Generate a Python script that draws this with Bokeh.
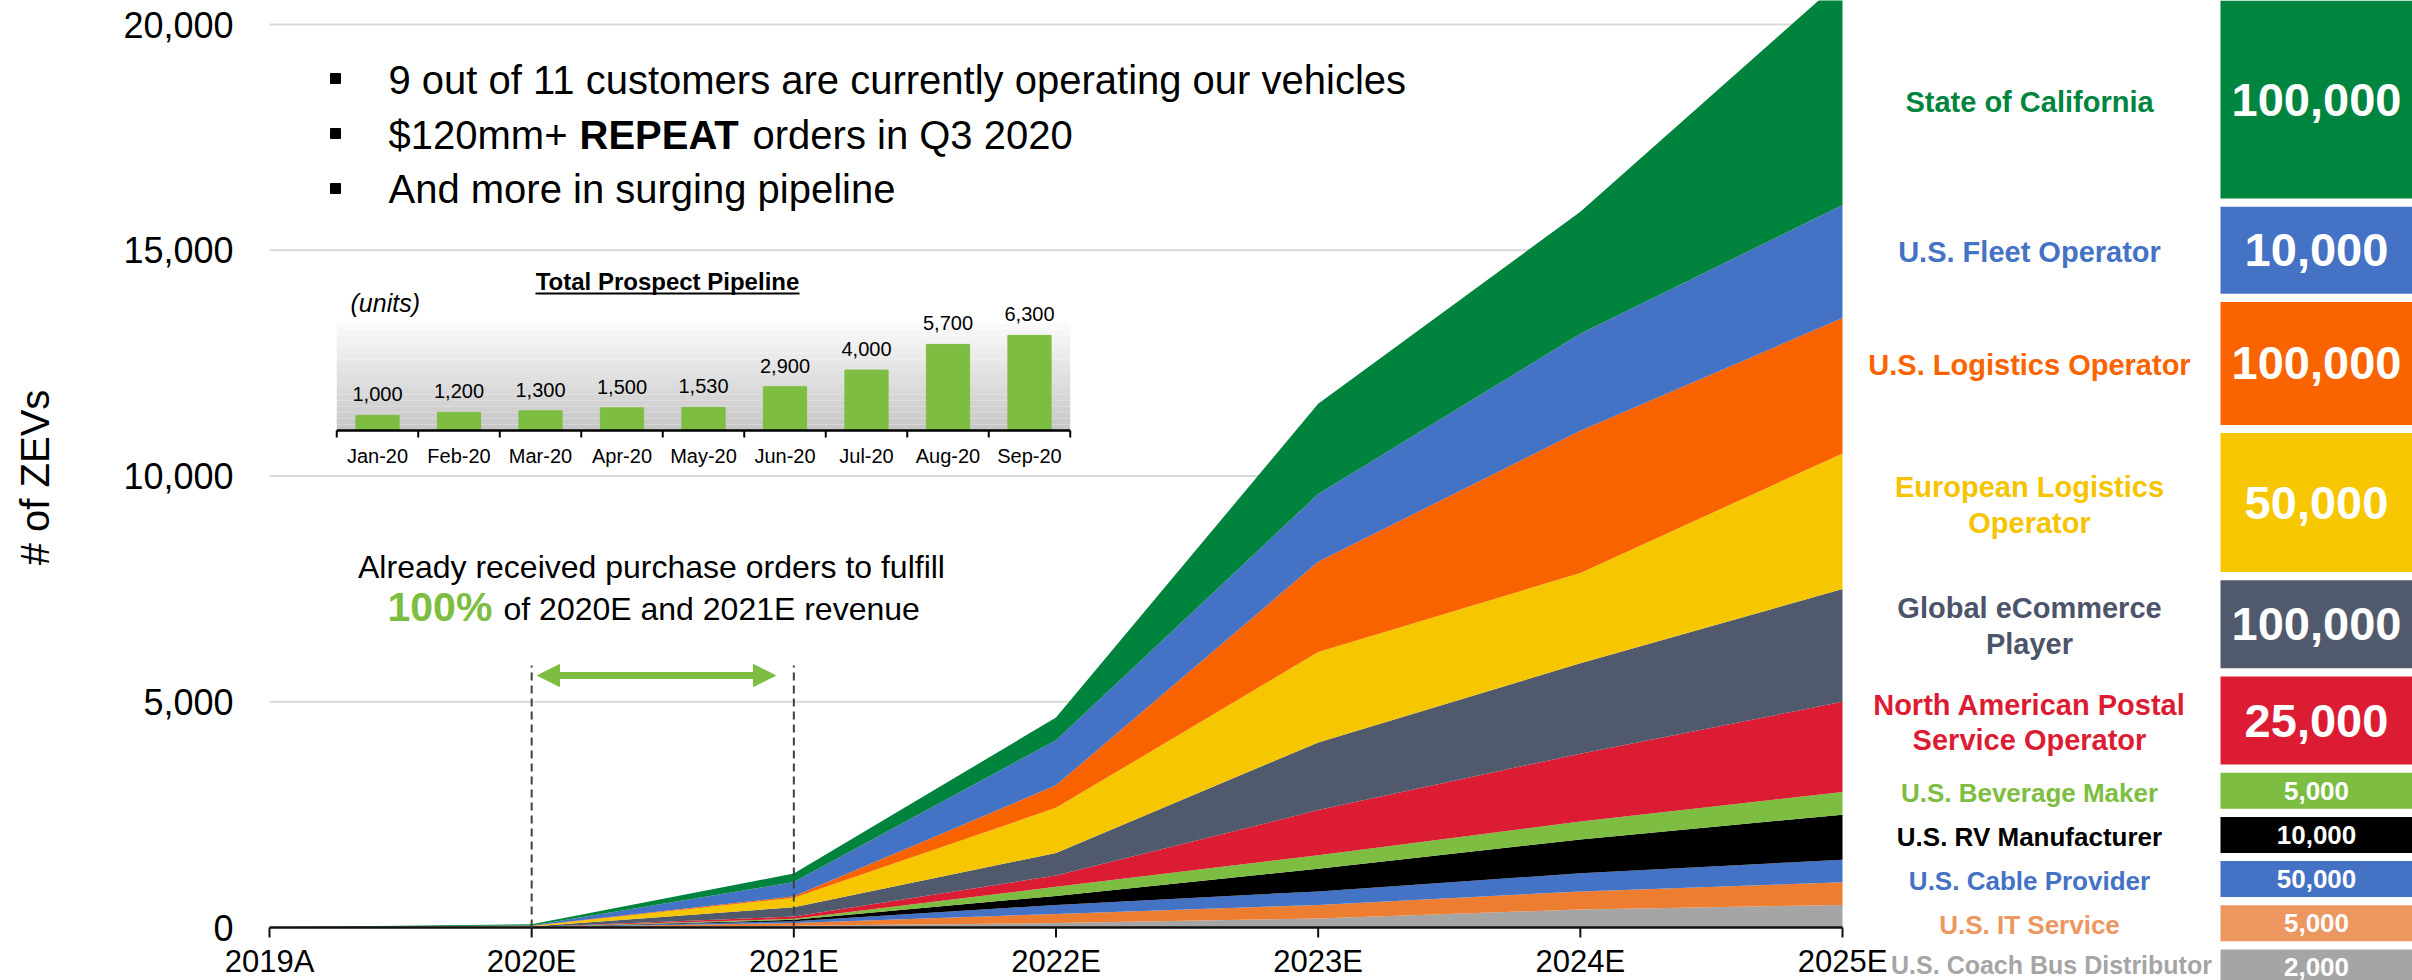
import math
from bokeh.plotting import figure
from bokeh.models import Range1d, ColumnDataSource, Arrow, NormalHead
from bokeh.embed import file_html
from bokeh.resources import INLINE
from bokeh.core.properties import value

# ---------------- data ----------------
years = ["2019A", "2020E", "2021E", "2022E", "2023E", "2024E", "2025E"]
y_ticks = [0, 5000, 10000, 15000, 20000]

# stacked layers, bottom to top (# of ZEVs)
coach_bus = [0, 1, 40, 100, 200, 400, 500]
it_service = [0, 2, 60, 200, 300, 400, 500]
cable_provider = [0, 2, 40, 200, 300, 400, 500]
rv_manufacturer = [0, 0, 30, 200, 500, 750, 1000]
beverage_maker = [0, 4, 25, 200, 300, 400, 500]
postal_operator = [0, 3, 50, 250, 1000, 1500, 2000]
ecommerce_player = [0, 8, 205, 500, 1500, 2000, 2500]
european_logistics = [1, 15, 210, 1000, 2000, 2000, 3000]
us_logistics = [0, 2, 30, 500, 2000, 3150, 3000]
us_fleet = [1, 10, 315, 1000, 1500, 2150, 2500]
california = [3, 25, 190, 500, 2000, 2700, 5000]

# legend panel, top to bottom
customer_names = ["State of California", "U.S. Fleet Operator", "U.S. Logistics Operator",
                  "European Logistics\nOperator", "Global eCommerce\nPlayer",
                  "North American Postal\nService Operator", "U.S. Beverage Maker",
                  "U.S. RV Manufacturer", "U.S. Cable Provider", "U.S. IT Service",
                  "U.S. Coach Bus Distributor"]
customer_orders = [100000, 10000, 100000, 50000, 100000, 25000, 5000, 10000, 50000, 5000, 2000]

# inset: total prospect pipeline (units)
months = ["Jan-20", "Feb-20", "Mar-20", "Apr-20", "May-20", "Jun-20", "Jul-20", "Aug-20", "Sep-20"]
pipeline = [1000, 1200, 1300, 1500, 1530, 2900, 4000, 5700, 6300]

# ---------------- styles ----------------
FONT = value("Liberation Sans")
GREEN_TXT = "#7DBE42"
legend_box_colors = ["#00853F", "#4472C4", "#F96400", "#F6C700", "#505A6C", "#DC1C32",
                     "#7DBE42", "#000000", "#4472C4", "#EC9660", "#A5A5A5"]
legend_txt_colors = ["#00853F", "#4472C4", "#F96400", "#F5C400", "#4B5468", "#DC1C32",
                     "#7DBE42", "#000000", "#4472C4", "#EC9660", "#A5A5A5"]
label_sizes = ["29px"] * 6 + ["26px"] * 4 + ["25px"]
number_sizes = ["47px"] * 6 + ["26px"] * 5
box_heights = [198, 87, 123, 139, 88, 88, 36, 36, 36, 36, 36]
BOX_GAP = 8.2

layer_names = ["coach", "it", "cable", "rv", "bev", "postal", "ecom", "euro", "uslog", "fleet", "ca"]
layer_values = [coach_bus, it_service, cable_provider, rv_manufacturer, beverage_maker,
                postal_operator, ecommerce_player, european_logistics, us_logistics, us_fleet,
                california]
layer_colors = ["#A5A5A5", "#ED7D31", "#4472C4", "#000000", "#7DBE42", "#DC1C32",
                "#515A6C", "#F6C600", "#F86300", "#4472C4", "#00843D"]

# ---------------- geometry (page pixels; the plot frame fills the whole canvas) ----------------
W, H = 2412, 980
SX0, SY0 = 269, 927        # page position of (2019A, 0)
XPX = (1842 - SX0) / 6.0   # px per year
YPX = (SY0 - 24) / 20000.0 # px per vehicle (20,000 gridline at y=24)


def dx(sx):
    return (sx - SX0) / XPX


def dy(sy):
    return (SY0 - sy) / YPX


p = figure(width=W, height=H,
           x_range=Range1d(-SX0 / XPX, (W - SX0) / XPX),
           y_range=Range1d(-(H - SY0) / YPX, SY0 / YPX),
           output_backend="svg", toolbar_location=None, x_axis_location=None,
           y_axis_location=None, min_border=0)
p.outline_line_color = None
p.grid.visible = False

# ---- value axis: gridlines, tick labels, title ----
gl = [t for t in y_ticks if t > 0]
p.segment(x0=[0] * len(gl), y0=gl, x1=[len(years) - 1] * len(gl), y1=gl,
          line_color="#D9D9D9", line_width=2)
p.text(x=[dx(233)] * len(y_ticks), y=y_ticks, text=[f"{t:,}" for t in y_ticks],
       text_font=FONT, text_font_size="36px", text_align="right", text_baseline="middle",
       text_color="#000000")
p.text(x=[dx(34)], y=[dy(477)], text=["# of ZEVs"], angle=math.pi / 2, text_font=FONT,
       text_font_size="40px", text_align="center", text_baseline="middle", text_color="#000000")

# ---- stacked areas ----
src = ColumnDataSource(dict(x=list(range(len(years))),
                            **{n: v for n, v in zip(layer_names, layer_values)}))
p.varea_stack(stackers=layer_names, x="x", color=layer_colors, source=src)

# ---- category axis: line, ticks, labels ----
nx = len(years)
p.segment(x0=[0], y0=[0], x1=[nx - 1], y1=[0], line_color="#111111", line_width=2.5)
p.segment(x0=list(range(nx)), y0=[0] * nx, x1=list(range(nx)), y1=[-10 / YPX] * nx,
          line_color="#111111", line_width=2)
p.text(x=list(range(nx)), y=[0] * nx, text=years, text_font=FONT, text_font_size="31px",
       text_align="center", text_baseline="middle", y_offset=34, text_color="#000000")

# ---- dashed markers for 2020E / 2021E ----
p.segment(x0=[1, 2], y0=[0, 0], x1=[1, 2], y1=[dy(665), dy(665)],
          line_color="#404040", line_width=2, line_dash="8 5")

# ---- green double arrow + note ----
head_kw = dict(size=22, fill_color=GREEN_TXT, line_color=GREEN_TXT)
p.add_layout(Arrow(x_start=dx(537), y_start=dy(675), x_end=dx(775), y_end=dy(675),
                   line_color=GREEN_TXT, line_width=7,
                   start=NormalHead(**head_kw), end=NormalHead(**head_kw)))

p.text(x=[dx(651)], y=[dy(566)], text=["Already received purchase orders to fulfill"],
       text_font=FONT, text_font_size="32px", text_align="center",
       text_baseline="middle", text_color="#000000")
p.text(x=[dx(387)], y=[dy(606)], text=["100%"], text_font=FONT, text_font_size="41px",
       text_font_style="bold", text_align="left", text_baseline="middle",
       text_color=GREEN_TXT)
p.text(x=[dx(503)], y=[dy(608)], text=["of 2020E and 2021E revenue"], text_font=FONT,
       text_font_size="32px", text_align="left", text_baseline="middle",
       text_color="#000000")

# ---- bullets ----
p.scatter(x=[dx(335)] * 3, y=[dy(78), dy(133), dy(188)], marker="square", size=10,
          color="#000000")
p.text(x=[dx(388), dx(388)], y=[dy(79), dy(188)],
       text=["9 out of 11 customers are currently operating our vehicles",
             "And more in surging pipeline"],
       text_font=FONT, text_font_size="40px", text_baseline="middle", text_color="#000000")
p.text(x=[dx(388)], y=[dy(134)], text=["$120mm+"], text_font=FONT, text_font_size="40px",
       text_baseline="middle", text_color="#000000")
p.text(x=[dx(579)], y=[dy(134)], text=["REPEAT"], text_font=FONT, text_font_size="40px",
       text_font_style="bold", text_baseline="middle", text_color="#000000")
p.text(x=[dx(752)], y=[dy(134)], text=["orders in Q3 2020"], text_font=FONT,
       text_font_size="40px", text_baseline="middle", text_color="#000000")

# ---------------- inset bar chart (own scales via extra ranges) ----------------
IX0, IXPX = 377, 81.5         # page x of first bar centre, px per category
IY0, IYPX = 430, 15.1 / 1000  # page y of inset zero, px per unit
p.extra_x_ranges = {"ix": Range1d(-IX0 / IXPX, (W - IX0) / IXPX), "sx": Range1d(0, W)}
p.extra_y_ranges = {"iy": Range1d(-(H - IY0) / IYPX, IY0 / IYPX), "sy": Range1d(H, 0)}
ikw = dict(x_range_name="ix", y_range_name="iy")

n = len(months)
inset_top = (IY0 - 323) / IYPX
bands = 18
b_edges = [inset_top * i / bands for i in range(bands + 1)]
b_cols = []
for i in range(bands):
    t = (i + 0.5) / bands  # 0 bottom -> 1 top
    g = int(198 + (251 - 198) * t)
    b_cols.append("#%02x%02x%02x" % (g, g, g))
p.quad(left=[-0.5] * bands, right=[n - 0.5] * bands, bottom=b_edges[:-1], top=b_edges[1:],
       color=b_cols, line_color=None, **ikw)

isrc = ColumnDataSource(dict(x=list(range(n)), v=pipeline, m=months,
                             lab=[f"{v:,}" for v in pipeline]))
p.vbar(x="x", top="v", width=0.53, source=isrc, color="#7DBE42", **ikw)
p.text(x="x", y="v", text="lab", source=isrc, text_font=FONT, text_font_size="20px",
       text_align="center", text_baseline="middle", y_offset=-21, text_color="#000000", **ikw)
p.text(x="x", y=0, text="m", source=isrc, text_font=FONT, text_font_size="20px",
       text_align="center", text_baseline="middle", y_offset=25, text_color="#000000", **ikw)
p.segment(x0=[-0.5], y0=[0], x1=[n - 0.5], y1=[0], line_color="#000000", line_width=2.5, **ikw)
tick_x = [i - 0.5 for i in range(n + 1)]
p.segment(x0=tick_x, y0=[0] * (n + 1), x1=tick_x, y1=[-7 / IYPX] * (n + 1),
          line_color="#000000", line_width=2, **ikw)

p.text(x=[dx(667)], y=[dy(281)], text=["Total Prospect Pipeline"], text_font=FONT,
       text_font_size="24px", text_font_style="bold", text_align="center",
       text_baseline="middle", text_color="#000000")
p.segment(x0=[dx(535)], y0=[dy(293)], x1=[dx(799)], y1=[dy(293)], line_color="#000000",
          line_width=2)
p.text(x=[dx(350)], y=[dy(302)], text=["(units)"], text_font=FONT, text_font_size="25px",
       text_font_style="italic", text_baseline="middle", text_color="#000000")

# ---------------- legend panel (page-pixel ranges) ----------------
tops, bots = [], []
cur = 0.0
for h in box_heights:
    tops.append(cur)
    bots.append(cur + h)
    cur += h + BOX_GAP
mids = [(a + b) / 2 for a, b in zip(tops, bots)]
lab_y = [m + 2 for m in mids]
lab_y[-1] = 964
num_y = list(mids)
num_y[-1] = 966
BOX_L, BOX_R = 2220, 2412
skw = dict(x_range_name="sx", y_range_name="sy")
p.quad(left=[BOX_L] * len(tops), right=[BOX_R] * len(tops), top=tops, bottom=bots,
       color=legend_box_colors, line_color=None, **skw)
lsrc = ColumnDataSource(dict(
    x=[2029] * 10 + [2051], y=lab_y, t=customer_names, c=legend_txt_colors, s=label_sizes,
    nx=[(BOX_L + BOX_R) / 2] * len(mids), ny=num_y,
    nt=[f"{v:,}" for v in customer_orders], ns=number_sizes))
p.text(x="x", y="y", text="t", source=lsrc, text_color="c", text_font_size="s",
       text_font=FONT, text_font_style="bold", text_align="center", text_baseline="middle",
       text_line_height=1.12, **skw)
p.text(x="nx", y="ny", text="nt", source=lsrc, text_color="white", text_font_size="ns",
       text_font=FONT, text_font_style="bold", text_align="center", text_baseline="middle",
       **skw)

open("out.html", "w").write(file_html(p, INLINE))
